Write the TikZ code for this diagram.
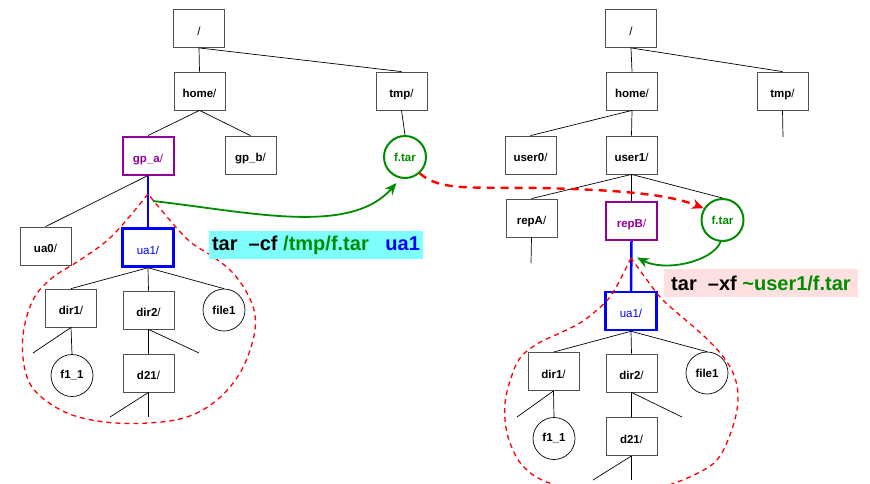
\documentclass[tikz,border=0pt]{standalone}
\usepackage{fontspec}
\setmainfont{Liberation Sans}
\usetikzlibrary{arrows.meta}
\definecolor{boxgray}{RGB}{80,80,80}
\definecolor{grp}{RGB}{145,0,155}
\definecolor{fgreen}{RGB}{0,140,0}
\definecolor{cyanbg}{RGB}{128,255,255}
\definecolor{pinkbg}{RGB}{255,224,224}
\newcommand\dirlabel[1]{\textbf{#1}/}
\begin{document}
\begin{tikzpicture}[x=1pt,y=-1pt,
  dirbox/.style={rectangle,draw=boxgray,line width=0.8pt,minimum width=51pt,minimum height=38pt,inner sep=0pt,text height=13pt,text depth=0pt,font=\fontsize{11.5}{13}\selectfont},
  filecirc/.style={circle,draw=black,line width=0.7pt,minimum size=42pt,inner sep=0pt,font=\fontsize{11.5}{13}\selectfont\bfseries},
  groupbox/.style={dirbox,draw=grp,line width=2pt,text=grp},
  userbox/.style={dirbox,draw=blue,line width=2.5pt,text=blue},
  tarcirc/.style={filecirc,draw=fgreen,line width=2pt,text=fgreen},
  link/.style={draw=black,line width=0.7pt},
  bluelink/.style={draw=blue,line width=2.5pt},
  blob/.style={draw=red,line width=1.3pt,dash pattern=on 5pt off 4pt},
  greenarrow/.style={draw=fgreen,line width=1.8pt,-{Stealth[length=12pt,width=10pt]}},
  redarrow/.style={draw=red,line width=2.4pt,dash pattern=on 8pt off 6pt,-{Stealth[length=12pt,width=10pt]}},
  cmdbox/.style={inner xsep=3pt,inner ysep=0pt,minimum height=28pt,font=\fontsize{20}{24}\selectfont\bfseries}
]
\useasboundingbox (0,0) rectangle (870,483);

% ---------------- left tree ----------------
\node[dirbox] (rootL) at (199,28.5) {/};
\node[dirbox] (homeL) at (199.5,91) {\dirlabel{home}};
\node[dirbox] (tmpL) at (401.5,91) {\dirlabel{tmp}};
\node[groupbox] (gpa) at (148,155.5) {\dirlabel{gp\_a}};
\node[dirbox] (gpb) at (250.5,155) {\dirlabel{gp\_b}};
\node[tarcirc] (ftarL) at (405,157) {f.tar};
\node[dirbox] (ua0) at (45.5,246) {\dirlabel{ua0}};
\node[userbox] (ua1L) at (148,247.5) {ua1/};
\node[dirbox] (dir1L) at (71,308) {\dirlabel{dir1}};
\node[dirbox] (dir2L) at (148.5,310) {\dirlabel{dir2}};
\node[filecirc] (file1L) at (224,310) {file1};
\node[filecirc] (f11L) at (72,375.5) {f1\_1};
\node[dirbox] (d21L) at (148.5,373) {\dirlabel{d21}};
\coordinate (endL1) at (33,353);
\coordinate (endL2) at (199,353);
\coordinate (endL3) at (110,417);
\coordinate (endL4) at (148.5,417);

\draw[link] (rootL.south) -- (homeL.north);
\draw[link] (rootL.south) -- (tmpL.north);
\draw[link] (homeL.south) -- (gpa.north);
\draw[link] (homeL.south) -- (gpb.north);
\draw[link] (tmpL.south) -- (ftarL.north);
\draw[link] (gpa.south) -- (ua0.north);
\draw[bluelink] (gpa.south) -- (ua1L.north);
\draw[link] (ua1L.south) -- (dir1L.north);
\draw[link] (ua1L.south) -- (dir2L.north);
\draw[link] (ua1L.south) -- (file1L.north);
\draw[link] (dir1L.south) -- (f11L.north);
\draw[link] (dir1L.south) -- (endL1);
\draw[link] (dir2L.south) -- (d21L.north);
\draw[link] (dir2L.south) -- (endL2);
\draw[link] (d21L.south) -- (endL3);
\draw[link] (d21L.south) -- (endL4);

\draw[blob] plot[smooth,tension=0.6] coordinates {(148,194) (112,236) (80,260) (52,278) (33,300) (23,335) (25,370) (37,393) (67,413) (105,422) (148,423) (187,417) (217,400) (240,373) (253,340) (255,315) (247,293) (232,272) (212,256) (186,238) (148,194)};

% ---------------- right tree ----------------
\node[dirbox] (rootR) at (631,28.5) {/};
\node[dirbox] (homeR) at (632,91) {\dirlabel{home}};
\node[dirbox] (tmpR) at (782.5,91) {\dirlabel{tmp}};
\node[dirbox] (user0) at (530.5,155) {\dirlabel{user0}};
\node[dirbox] (user1) at (631.5,155) {\dirlabel{user1}};
\node[dirbox] (repA) at (531.5,218) {\dirlabel{repA}};
\node[groupbox] (repB) at (631.5,221) {\dirlabel{repB}};
\node[tarcirc] (ftarR) at (722.5,220) {f.tar};
\node[userbox] (ua1R) at (631,311) {ua1/};
\node[dirbox] (dir1R) at (553.5,371.5) {\dirlabel{dir1}};
\node[dirbox] (dir2R) at (631.5,373) {\dirlabel{dir2}};
\node[filecirc] (file1R) at (707,373) {file1};
\node[filecirc] (f11R) at (554,438.5) {f1\_1};
\node[dirbox] (d21R) at (631.5,436.5) {\dirlabel{d21}};
\coordinate (endR0) at (783,137);
\coordinate (endR1) at (531,263);
\coordinate (endR2) at (517,417);
\coordinate (endR3) at (682,417);
\coordinate (endR4) at (593,480);
\coordinate (endR5) at (631.5,480);

\draw[link] (rootR.south) -- (homeR.north);
\draw[link] (rootR.south) -- (tmpR.north);
\draw[link] (tmpR.south) -- (endR0);
\draw[link] (homeR.south) -- (user0.north);
\draw[link] (homeR.south) -- (user1.north);
\draw[link] (user1.south) -- (repA.north);
\draw[link] (user1.south) -- (repB.north);
\draw[link] (user1.south) -- (ftarR.north);
\draw[link] (repA.south) -- (endR1);
\draw[bluelink] (repB.south) -- (ua1R.north);
\draw[link] (ua1R.south) -- (dir1R.north);
\draw[link] (ua1R.south) -- (dir2R.north);
\draw[link] (ua1R.south) -- (file1R.north);
\draw[link] (dir1R.south) -- (f11R.north);
\draw[link] (dir1R.south) -- (endR2);
\draw[link] (dir2R.south) -- (d21R.north);
\draw[link] (dir2R.south) -- (endR3);
\draw[link] (d21R.south) -- (endR4);
\draw[link] (d21R.south) -- (endR5);

\draw[blob] plot[smooth,tension=0.6] coordinates {(631,258) (620,280) (610,297) (597,310) (580,323) (560,333) (537,344) (520,358) (511,378) (505,403) (506,428) (512,448) (522,465) (540,479) (570,489) (605,493) (640,492) (672,484) (700,472) (717,460) (728,440) (736,415) (738,395) (735,378) (727,362) (713,345) (695,328) (675,311) (660,297) (647,280) (631,258)};

% ---------------- arrows ----------------
\coordinate (g1s) at (153,201);
\draw[greenarrow, shorten >=6pt] (g1s) .. controls (250,212) and (350,236) .. (ftarL.-102);
\draw[redarrow] (ftarL.-48) .. controls (440,191) and (470,187) .. (540,188) .. controls (620,190) and (668,194) .. (ftarR.148);
\coordinate (g2e) at (637,257.5);
\draw[greenarrow] (ftarR.-95) .. controls (712,262) and (665,272) .. (g2e);

% ---------------- commands ----------------
\node[cmdbox,fill=cyanbg,minimum width=214pt] (cmdL) at (316,245) {tar\ \ –cf \textcolor{fgreen}{/tmp/f.tar}\ \ \ \textcolor{blue}{ua1}};
\node[cmdbox,fill=pinkbg,minimum width=194pt] (cmdR) at (761,283) {tar\ \ –xf \textcolor{fgreen}{\textasciitilde user1/f.tar}};
\end{tikzpicture}
\end{document}
